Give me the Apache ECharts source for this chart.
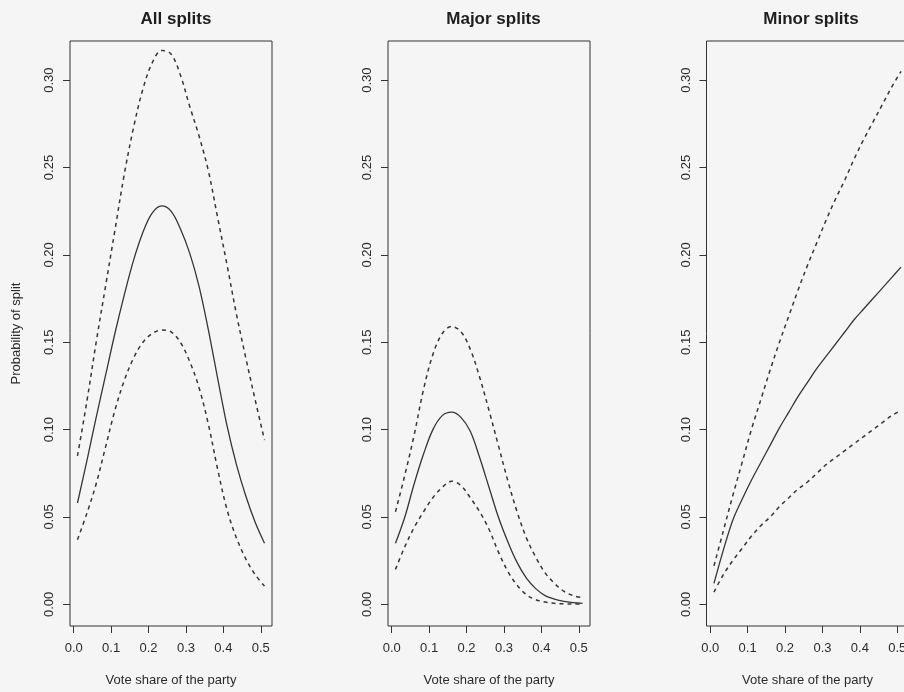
<!DOCTYPE html>
<html>
<head>
<meta charset="utf-8">
<script src="https://cdn.jsdelivr.net/npm/echarts@6/dist/echarts.min.js"></script>
<style>
  body { margin: 0; background: #f5f5f5; }
  #main { width: 904px; height: 692px; }
</style>
</head>
<body>
<div id="main"></div>
<script>
// vote share grid (x)
const voteShare = [0.01, 0.035, 0.06, 0.085, 0.11, 0.135, 0.16, 0.185, 0.21, 0.235, 0.26,
  0.285, 0.31, 0.335, 0.36, 0.385, 0.41, 0.435, 0.46, 0.485, 0.51];

// All splits
const allFit = [0.058, 0.082, 0.107, 0.131, 0.155, 0.177, 0.197, 0.213, 0.224, 0.228, 0.225,
  0.215, 0.201, 0.182, 0.157, 0.129, 0.102, 0.080, 0.062, 0.047, 0.035];
const allUpper = [0.085, 0.116, 0.150, 0.182, 0.214, 0.246, 0.273, 0.295, 0.310, 0.317, 0.315,
  0.303, 0.285, 0.268, 0.248, 0.221, 0.194, 0.166, 0.141, 0.117, 0.094];
const allLower = [0.037, 0.052, 0.069, 0.090, 0.111, 0.128, 0.141, 0.150, 0.155, 0.157, 0.156,
  0.150, 0.139, 0.124, 0.103, 0.077, 0.054, 0.038, 0.026, 0.017, 0.0105];

// Major splits
const majorFit = [0.035, 0.050, 0.069, 0.086, 0.100, 0.108, 0.110, 0.107, 0.099, 0.084, 0.067,
  0.050, 0.036, 0.024, 0.015, 0.009, 0.005, 0.003, 0.0017, 0.001, 0.0006];
const majorUpper = [0.053, 0.074, 0.097, 0.123, 0.143, 0.155, 0.159, 0.156, 0.146, 0.130, 0.111,
  0.091, 0.071, 0.053, 0.038, 0.027, 0.018, 0.012, 0.0075, 0.005, 0.0038];
const majorLower = [0.020, 0.033, 0.044, 0.053, 0.061, 0.067, 0.0705, 0.068, 0.061, 0.053, 0.043,
  0.030, 0.019, 0.011, 0.0055, 0.0027, 0.0013, 0.0006, 0.0003, 0.0002, 0.0001];

// Minor splits
const minorFit = [0.012, 0.031, 0.048, 0.060, 0.071, 0.081, 0.091, 0.101, 0.110, 0.119, 0.127,
  0.135, 0.142, 0.149, 0.156, 0.163, 0.169, 0.175, 0.181, 0.187, 0.193];
const minorUpper = [0.022, 0.042, 0.062, 0.081, 0.100, 0.117, 0.134, 0.150, 0.165, 0.180, 0.194,
  0.207, 0.220, 0.232, 0.243, 0.255, 0.266, 0.276, 0.286, 0.296, 0.305];
const minorLower = [0.007, 0.017, 0.025, 0.032, 0.039, 0.045, 0.050, 0.056, 0.061, 0.066, 0.070,
  0.075, 0.080, 0.084, 0.088, 0.092, 0.096, 0.100, 0.104, 0.108, 0.111];

const xTicks = [0, 0.1, 0.2, 0.3, 0.4, 0.5];
const yTicks = [0, 0.05, 0.10, 0.15, 0.20, 0.25, 0.30];
const panelTitles = ['All splits', 'Major splits', 'Minor splits'];

const FONT = "'Liberation Sans', Arial, Helvetica, sans-serif";
const INK = '#2b2b2b';

const panels = [
  { fit: allFit, upper: allUpper, lower: allLower },
  { fit: majorFit, upper: majorUpper, lower: majorLower },
  { fit: minorFit, upper: minorUpper, lower: minorLower }
];
const gridLefts = [70, 388, 706.5];
const gridWidth = 202;
const titleCenters = [171, 488.5, 806];

const pairs = (ys) => voteShare.map((x, i) => [x, ys[i]]);

const chart = echarts.init(document.getElementById('main'));

const option = {
  backgroundColor: '#f5f5f5',
  animation: false,
  title: panelTitles.map((t, i) => ({
    text: t,
    left: titleCenters[i],
    top: 6,
    textAlign: 'center',
    textStyle: { fontFamily: FONT, fontSize: 17, fontWeight: 'bold', color: '#1e1e1e' }
  })),
  grid: gridLefts.map(l => ({
    left: l, width: gridWidth, top: 41, height: 585,
    containLabel: false, outerBoundsMode: 'none',
    show: true, borderColor: '#333', borderWidth: 1, backgroundColor: 'transparent'
  })),
  xAxis: gridLefts.map((l, i) => ({
    type: 'value', gridIndex: i, min: -0.01, max: 0.53, position: 'bottom',
    axisLine: { show: false, onZero: false },
    splitLine: { show: false },
    axisTick: { show: true, inside: false, customValues: xTicks, length: 7, lineStyle: { color: '#333' } },
    axisLabel: {
      customValues: xTicks, margin: 16, fontSize: 13, fontFamily: FONT, color: INK,
      formatter: v => v.toFixed(1)
    },
    name: 'Vote share of the party', nameLocation: 'middle', nameGap: 48,
    nameTextStyle: { fontSize: 13, fontFamily: FONT, color: INK }
  })),
  yAxis: gridLefts.map((l, i) => ({
    type: 'value', gridIndex: i, min: -0.0124, max: 0.3224, position: 'left',
    axisLine: { show: false, onZero: false },
    splitLine: { show: false },
    axisTick: { show: true, inside: false, customValues: yTicks, length: 7, lineStyle: { color: '#333' } },
    axisLabel: {
      customValues: yTicks, margin: 14, rotate: 90, fontSize: 13, fontFamily: FONT, color: INK,
      formatter: v => v.toFixed(2)
    },
    name: i === 0 ? 'Probability of split' : '',
    nameLocation: 'middle', nameGap: 47, nameRotate: 90,
    nameTextStyle: { fontSize: 13, fontFamily: FONT, color: INK }
  })),
  series: []
};

panels.forEach((p, i) => {
  option.series.push({
    type: 'line', xAxisIndex: i, yAxisIndex: i, data: pairs(p.fit),
    smooth: 0.35, symbol: 'none', silent: true,
    lineStyle: { color: '#353535', width: 1.3 }
  });
  [p.upper, p.lower].forEach(band => {
    option.series.push({
      type: 'line', xAxisIndex: i, yAxisIndex: i, data: pairs(band),
      smooth: 0.35, symbol: 'none', silent: true,
      lineStyle: { color: '#353535', width: 1.5, type: [4, 4] }
    });
  });
});

chart.setOption(option);
</script>
</body>
</html>
